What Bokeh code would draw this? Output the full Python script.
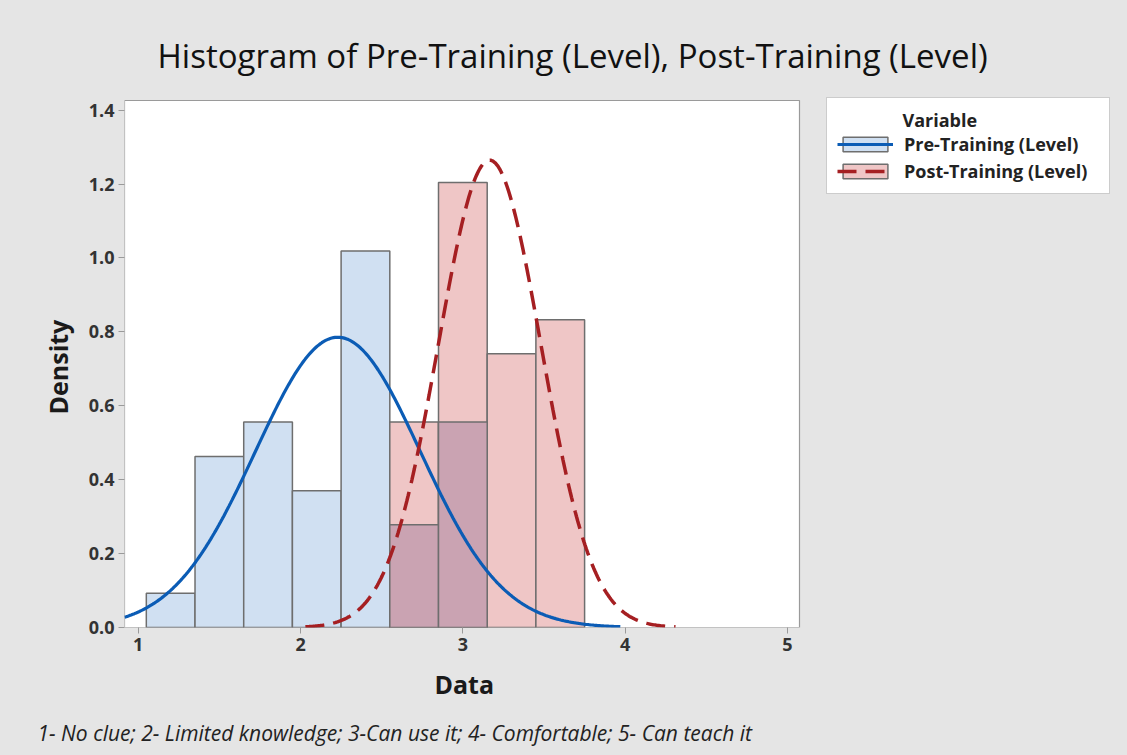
import numpy as np
from bokeh.plotting import figure
from bokeh.models import (ColumnDataSource, Range1d, FixedTicker, Legend,
                          LegendItem, NumeralTickFormatter, Title)
from bokeh.embed import file_html
from bokeh.resources import INLINE

# ---------------- data ----------------
bin_left = [1.05, 1.35, 1.65, 1.95, 2.25, 2.55, 2.85, 3.15, 3.45]
bin_right = [1.35, 1.65, 1.95, 2.25, 2.55, 2.85, 3.15, 3.45, 3.75]
pre_density = [0.0926, 0.463, 0.556, 0.370, 1.019, 0.278, 0.556, 0.0, 0.0]
post_density = [0.0, 0.0, 0.0, 0.0, 0.0, 0.556, 1.204, 0.741, 0.833]

pre_mean, pre_sd = 2.23, 0.508
post_mean, post_sd = 3.165, 0.3155
pre_curve_span = (0.85, 3.97)
post_curve_span = (2.03, 4.31)

x_ticks = [1, 2, 3, 4, 5]
y_ticks = [0.0, 0.2, 0.4, 0.6, 0.8, 1.0, 1.2, 1.4]

# visible data area of the chart (axis limits)
x_lo, x_hi = 0.9156, 5.0739
y_lo, y_hi = 0.0, 1.426
# canvas extents (data area + room on the right for the legend)
x_canvas_hi = 7.0514
y_canvas_hi = 1.4530

title_text = "Histogram of Pre-Training (Level), Post-Training (Level)"
footnote = "1- No clue; 2- Limited knowledge; 3-Can use it; 4- Comfortable; 5- Can teach it"
series_names = ["Pre-Training (Level)", "Post-Training (Level)"]
legend_title = "Variable"
x_label = "Data"
y_label = "Density"

# ---------------- styles ----------------
FONT = "Open Sans"
BG = "#e5e5e5"
BLUE_FILL = "#d0e0f2"
PINK_FILL = "#efc6c6"
OVERLAP_FILL = "#caa3b2"
BAR_LINE = "#6e6e6e"
BLUE_LINE = "#0b5cb5"
RED_LINE = "#a51f22"
FRAME = "#9a9a9a"
NBSP = "\u00a0"

p = figure(width=1127, height=755, output_backend="svg", toolbar_location=None,
           x_range=Range1d(x_lo, x_canvas_hi), y_range=Range1d(y_lo, y_canvas_hi),
           min_border_left=124, min_border_right=7, min_border_top=90,
           min_border_bottom=128)
p.background_fill_color = BG
p.border_fill_color = BG
p.outline_line_color = None
p.grid.visible = False

# white data area with grey frame
p.quad(left=[x_lo], right=[x_hi], bottom=[y_lo], top=[y_hi], fill_color="white",
       line_color=FRAME, line_width=1.2, level="underlay")

# title
p.title.text = title_text
p.title.align = "left"
p.title.offset = 33
p.title.standoff = 25
p.title.text_font = FONT
p.title.text_font_size = "33px"
p.title.text_font_style = "normal"
p.title.text_color = "#111111"

# bars
pre_src = ColumnDataSource(dict(l=[a for a, d in zip(bin_left, pre_density) if d > 0],
                                r=[b for b, d in zip(bin_right, pre_density) if d > 0],
                                t=[d for d in pre_density if d > 0]))
post_src = ColumnDataSource(dict(l=[a for a, d in zip(bin_left, post_density) if d > 0],
                                 r=[b for b, d in zip(bin_right, post_density) if d > 0],
                                 t=[d for d in post_density if d > 0]))
ov = [(a, b, min(d1, d2)) for a, b, d1, d2 in zip(bin_left, bin_right, pre_density, post_density)
      if d1 > 0 and d2 > 0]
ov_src = ColumnDataSource(dict(l=[o[0] for o in ov], r=[o[1] for o in ov], t=[o[2] for o in ov]))

pre_q = p.quad(left="l", right="r", top="t", bottom=0, source=pre_src,
               fill_color=BLUE_FILL, line_color=BAR_LINE, line_width=1.5)
post_q = p.quad(left="l", right="r", top="t", bottom=0, source=post_src,
                fill_color=PINK_FILL, line_color=BAR_LINE, line_width=1.5)
p.quad(left="l", right="r", top="t", bottom=0, source=ov_src,
       fill_color=OVERLAP_FILL, line_color=BAR_LINE, line_width=1.5)


def normal_pdf(x, m, s):
    return np.exp(-0.5 * ((x - m) / s) ** 2) / (s * np.sqrt(2 * np.pi))


xs_pre = np.linspace(max(pre_curve_span[0], x_lo), pre_curve_span[1], 300)
xs_post = np.linspace(post_curve_span[0], post_curve_span[1], 300)
pre_l = p.line(xs_pre, normal_pdf(xs_pre, pre_mean, pre_sd), line_color=BLUE_LINE, line_width=3.2)
post_l = p.line(xs_post, normal_pdf(xs_post, post_mean, post_sd), line_color=RED_LINE,
                line_width=3.5, line_dash="19 9")

# axes
for ax in (p.xaxis[0], p.yaxis[0]):
    ax.axis_line_color = None
    ax.major_tick_line_color = FRAME
    ax.major_tick_out = 6
    ax.major_tick_in = 0
    ax.minor_tick_line_color = None
    ax.major_label_text_font = FONT
    ax.major_label_text_font_size = "18px"
    ax.major_label_text_font_style = "bold"
    ax.major_label_text_color = "#333333"

p.xaxis.ticker = FixedTicker(ticks=x_ticks)
p.yaxis.ticker = FixedTicker(ticks=y_ticks)
p.yaxis.formatter = NumeralTickFormatter(format="0.0")
p.xaxis.major_label_standoff = 4
p.yaxis.major_label_standoff = 4

# axis titles (panel titles, positioned over the data area)
p.add_layout(Title(text=x_label, align="left", offset=310, standoff=22,
                   text_font=FONT, text_font_size="25px", text_font_style="bold",
                   text_color="#1a1a1a"), "below")
p.add_layout(Title(text=footnote, align="left", offset=-87, standoff=11,
                   text_font=FONT, text_font_size="21px", text_font_style="italic",
                   text_color="#222222"), "below")
p.add_layout(Title(text=y_label, align="left", offset=213, standoff=21,
                   text_font=FONT, text_font_size="25px", text_font_style="bold",
                   text_color="#1a1a1a"), "left")

# legend
legend = Legend(items=[LegendItem(label=series_names[0], renderers=[pre_q, pre_l]),
                       LegendItem(label=series_names[1], renderers=[post_q, post_l])],
                location=(702, 433), title=NBSP * 14 + legend_title + NBSP * 26,
                title_text_font=FONT, title_text_font_size="18px",
                title_text_font_style="bold", title_text_color="#222222",
                title_standoff=0, padding=10, spacing=3, glyph_width=56, glyph_height=18,
                label_standoff=11, label_text_font=FONT, label_text_font_size="18px",
                label_text_font_style="bold", label_text_color="#222222",
                border_line_color=FRAME, border_line_width=1, background_fill_color="white",
                background_fill_alpha=1.0, margin=0)
p.add_layout(legend, "center")

html = file_html(p, INLINE)
html = html.replace("<head>", "<head><style>html,body{margin:0;background:%s;}</style>" % BG, 1)
open("out.html", "w").write(html)
